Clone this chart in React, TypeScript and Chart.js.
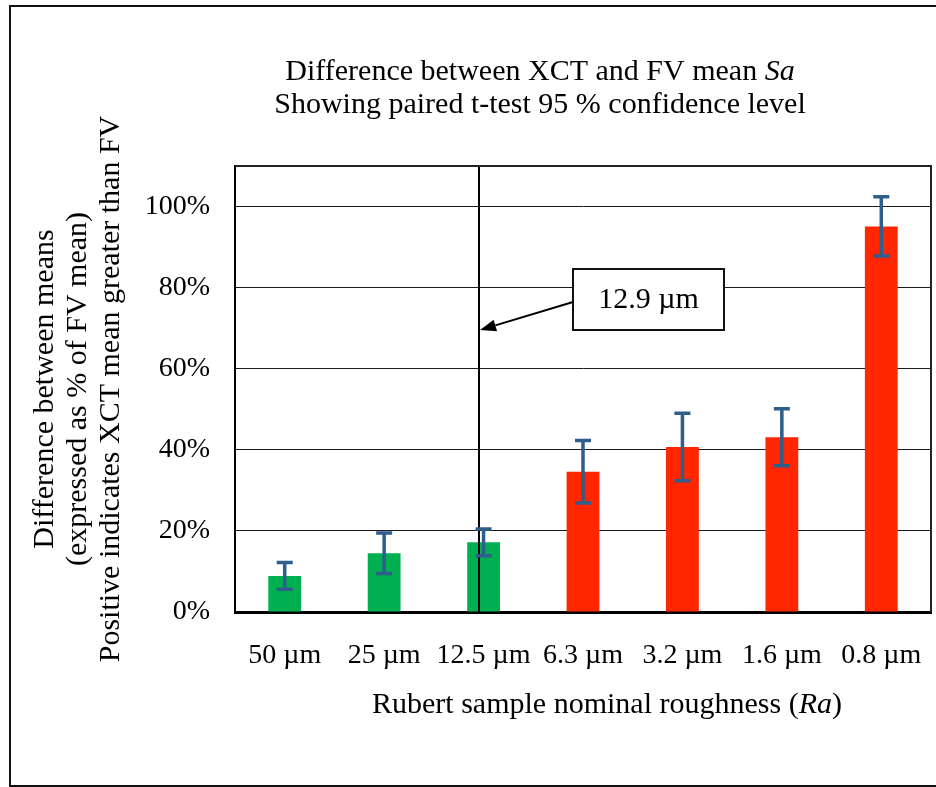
import React, { useEffect, useRef } from 'react';
import { Chart, registerables } from 'chart.js';

Chart.register(...registerables);

// Rubert comparison plates, coarse to fine
const categories = ['50 µm', '25 µm', '12.5 µm', '6.3 µm', '3.2 µm', '1.6 µm', '0.8 µm'];
const nominalRa = [50, 25, 12.5, 6.3, 3.2, 1.6, 0.8];
// XCT minus FV mean Sa, as % of FV mean
const meanDiff = [8.9, 14.5, 17.2, 34.6, 40.7, 43.1, 95.1];
// half-width of the paired t-test 95 % confidence interval
const ciHalfWidth = [3.3, 5.0, 3.3, 7.7, 8.3, 7.0, 7.3];
const barColors = ['#00B050', '#00B050', '#00B050', '#FF2600', '#FF2600', '#FF2600', '#FF2600'];
const yTickValues = [0, 20, 40, 60, 80, 100];
const yMax = 110;
const thresholdRa = 12.9;
const thresholdLabel = '12.9 µm';

const FONT = '"Liberation Serif", "Times New Roman", serif';
const ERR_COLOR = '#2F5D8C';

// fractional category position of a roughness value (log interpolation)
function categoryIndexFor(ra: number): number {
  for (let i = 0; i < nominalRa.length - 1; i++) {
    const a = nominalRa[i];
    const b = nominalRa[i + 1];
    if (ra <= a && ra >= b) return i + Math.log(a / ra) / Math.log(a / b);
  }
  return NaN;
}

type Part = [string, boolean];

function drawMixed(ctx: CanvasRenderingContext2D, parts: Part[], cx: number, baseline: number, size: number) {
  const widths: number[] = [];
  let total = 0;
  for (const [t, it] of parts) {
    ctx.font = `${it ? 'italic ' : ''}${size}px ${FONT}`;
    const w = ctx.measureText(t).width;
    widths.push(w);
    total += w;
  }
  let x = cx - total / 2;
  ctx.textAlign = 'left';
  ctx.textBaseline = 'alphabetic';
  parts.forEach(([t, it], i) => {
    ctx.font = `${it ? 'italic ' : ''}${size}px ${FONT}`;
    ctx.fillText(t, x, baseline);
    x += widths[i];
  });
}

const decorations = {
  id: 'decorations',
  beforeDraw(chart: any) {
    const ctx: CanvasRenderingContext2D = chart.ctx;
    ctx.save();
    ctx.fillStyle = '#ffffff';
    ctx.fillRect(0, 0, chart.width, chart.height);
    ctx.strokeStyle = '#111';
    ctx.lineWidth = 2;
    ctx.strokeRect(10, 6, chart.width + 20, 780);
    ctx.restore();
  },
  afterDatasetsDraw(chart: any) {
    const ctx: CanvasRenderingContext2D = chart.ctx;
    const xs = chart.scales.x;
    const ys = chart.scales.y;
    const area = chart.chartArea;
    ctx.save();

    // threshold marker
    const tx = Math.round(xs.getPixelForValue(categoryIndexFor(thresholdRa)));
    ctx.strokeStyle = '#000';
    ctx.lineWidth = 2;
    ctx.beginPath();
    ctx.moveTo(tx, area.top);
    ctx.lineTo(tx, area.bottom);
    ctx.stroke();

    // confidence interval whiskers
    ctx.strokeStyle = ERR_COLOR;
    ctx.lineWidth = 3.5;
    ctx.lineCap = 'butt';
    meanDiff.forEach((v, i) => {
      const x = xs.getPixelForValue(i);
      const hi = ys.getPixelForValue(v + ciHalfWidth[i]);
      const lo = ys.getPixelForValue(v - ciHalfWidth[i]);
      const cap = 8;
      ctx.beginPath();
      ctx.moveTo(x, hi);
      ctx.lineTo(x, lo);
      ctx.moveTo(x - cap, hi);
      ctx.lineTo(x + cap, hi);
      ctx.moveTo(x - cap, lo);
      ctx.lineTo(x + cap, lo);
      ctx.stroke();
    });
    ctx.restore();
  },
  afterDraw(chart: any) {
    const ctx: CanvasRenderingContext2D = chart.ctx;
    const xs = chart.scales.x;
    const area = chart.chartArea;
    ctx.save();

    // top and right edges of the plot area
    ctx.strokeStyle = '#222';
    ctx.lineWidth = 2;
    ctx.beginPath();
    ctx.moveTo(area.left, area.top);
    ctx.lineTo(area.right, area.top);
    ctx.lineTo(area.right, area.bottom);
    ctx.stroke();

    // callout box with arrow to the threshold line
    const tx = xs.getPixelForValue(categoryIndexFor(thresholdRa));
    const boxL = area.left + 338;
    const boxT = area.top + 103;
    const boxW = 151;
    const boxH = 61;
    const tipX = tx + 1;
    const tipY = area.top + 164;
    const tailX = boxL;
    const tailY = boxT + 33;
    const ang = Math.atan2(tipY - tailY, tipX - tailX);
    const headLen = 16;
    const headHalf = 6;
    const bx = tipX - headLen * Math.cos(ang);
    const by = tipY - headLen * Math.sin(ang);
    ctx.strokeStyle = '#000';
    ctx.lineWidth = 2;
    ctx.beginPath();
    ctx.moveTo(tailX, tailY);
    ctx.lineTo(bx, by);
    ctx.stroke();
    ctx.fillStyle = '#000';
    ctx.beginPath();
    ctx.moveTo(tipX, tipY);
    ctx.lineTo(bx + headHalf * Math.sin(ang), by - headHalf * Math.cos(ang));
    ctx.lineTo(bx - headHalf * Math.sin(ang), by + headHalf * Math.cos(ang));
    ctx.closePath();
    ctx.fill();

    ctx.fillStyle = '#fff';
    ctx.fillRect(boxL, boxT, boxW, boxH);
    ctx.strokeStyle = '#111';
    ctx.lineWidth = 2;
    ctx.strokeRect(boxL, boxT, boxW, boxH);
    ctx.fillStyle = '#000';
    ctx.font = `30px ${FONT}`;
    ctx.textAlign = 'center';
    ctx.textBaseline = 'middle';
    ctx.fillText(thresholdLabel, boxL + boxW / 2, boxT + boxH / 2 + 1);

    // chart title
    ctx.fillStyle = '#000';
    drawMixed(ctx, [['Difference between XCT and FV mean ', false], ['Sa', true]], 540, 80, 30);
    drawMixed(ctx, [['Showing paired t-test 95 % confidence level', false]], 540, 113, 30);

    // x axis title
    drawMixed(ctx, [['Rubert sample nominal roughness (', false], ['Ra', true], [')', false]], 607, 713, 30);

    // y axis title, three rotated lines
    const cy = (area.top + area.bottom) / 2;
    const yTitle = [
      'Difference between means',
      '(expressed as % of FV mean)',
      'Positive indicates XCT mean greater than FV',
    ];
    const baselines = [53, 86, 119];
    ctx.font = `30px ${FONT}`;
    ctx.textAlign = 'center';
    ctx.textBaseline = 'alphabetic';
    yTitle.forEach((t, i) => {
      ctx.save();
      ctx.translate(baselines[i], cy);
      ctx.rotate(-Math.PI / 2);
      ctx.fillText(t, 0, 0);
      ctx.restore();
    });
    ctx.restore();
  },
};

export default function App() {
  const canvasRef = useRef<HTMLCanvasElement | null>(null);

  useEffect(() => {
    const canvas = canvasRef.current;
    if (!canvas) return;
    Chart.defaults.font.family = FONT;
    Chart.defaults.color = '#000';
    const chart = new Chart(canvas, {
      type: 'bar',
      data: {
        labels: categories,
        datasets: [
          {
            data: meanDiff,
            backgroundColor: barColors,
            borderWidth: 0,
            barPercentage: 0.33,
            categoryPercentage: 1,
          },
        ],
      },
      options: {
        responsive: false,
        animation: false,
        devicePixelRatio: 1,
        events: [],
        layout: { padding: { left: 0, top: 166, right: 5, bottom: 0 } },
        plugins: {
          legend: { display: false },
          title: { display: false },
          tooltip: { enabled: false },
        },
        scales: {
          x: {
            grid: { display: false },
            border: { display: true, color: '#000', width: 3 },
            ticks: { font: { size: 28 }, padding: 19, maxRotation: 0, autoSkip: false, color: '#000' },
            afterFit(scale: any) {
              scale.height = 175;
              scale.paddingLeft = 0;
              scale.paddingRight = 0;
            },
          },
          y: {
            min: 0,
            max: yMax,
            grid: { color: '#1a1a1a', lineWidth: 1, drawTicks: false },
            border: { display: true, color: '#000', width: 2 },
            ticks: {
              font: { size: 28 },
              padding: 25,
              color: '#000',
              callback: (v: any) => `${v}%`,
            },
            afterBuildTicks(scale: any) {
              scale.ticks = yTickValues.map((v) => ({ value: v }));
            },
            afterFit(scale: any) {
              scale.width = 235;
              scale.paddingTop = 0;
              scale.paddingBottom = 0;
            },
          },
        },
      },
      plugins: [decorations],
    } as any);
    return () => chart.destroy();
  }, []);

  return (
    <div style={{ position: 'fixed', left: 0, top: 0, width: 936, height: 787, background: '#fff' }}>
      <canvas ref={canvasRef} width={936} height={787} style={{ display: 'block' }} />
    </div>
  );
}
